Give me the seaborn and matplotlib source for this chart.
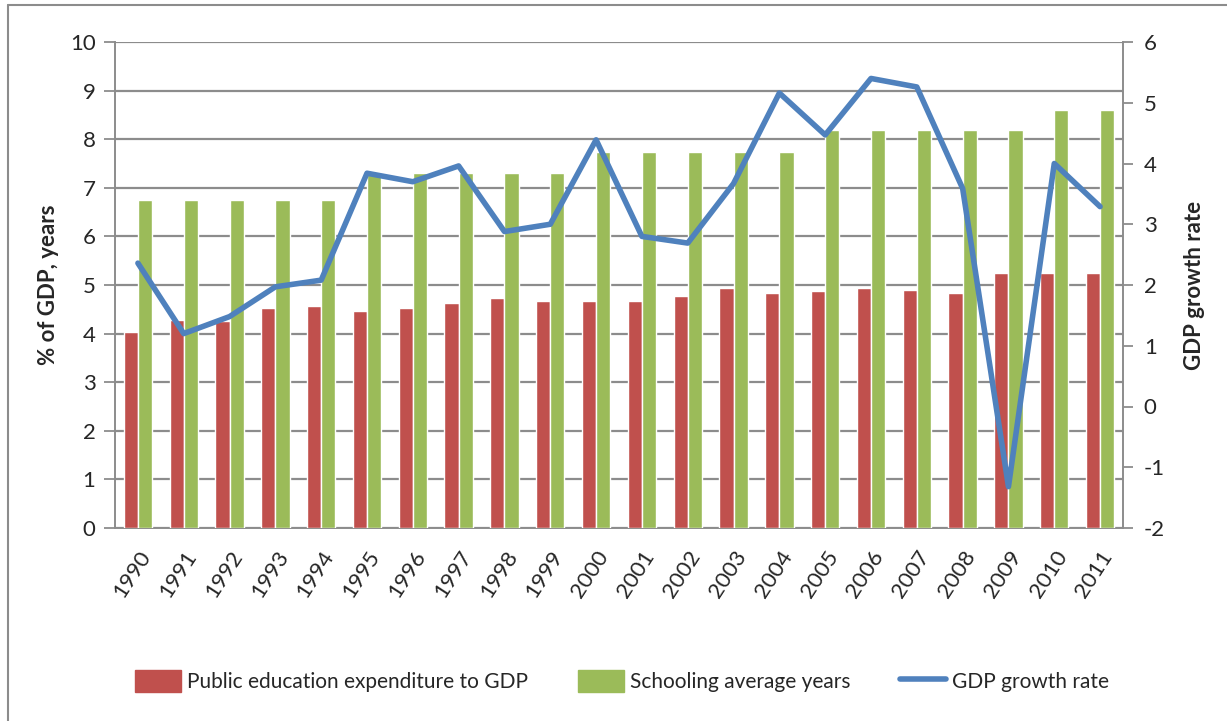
import numpy as np
import pandas as pd
import seaborn as sns
import matplotlib
matplotlib.use("Agg")
import matplotlib.pyplot as plt
from matplotlib.lines import Line2D
from matplotlib.patches import Patch

years = [str(y) for y in range(1990, 2012)]
edu_exp = [4.04, 4.27, 4.25, 4.52, 4.57, 4.47, 4.52, 4.63, 4.73, 4.68, 4.68,
           4.68, 4.78, 4.94, 4.84, 4.88, 4.94, 4.89, 4.84, 5.25, 5.25, 5.25]
schooling = [6.75, 6.75, 6.75, 6.75, 6.75, 7.30, 7.30, 7.30, 7.30, 7.30, 7.74,
             7.74, 7.74, 7.74, 7.74, 8.19, 8.19, 8.19, 8.19, 8.19, 8.60, 8.60]
gdp_growth = [2.36, 1.20, 1.48, 1.97, 2.08, 3.84, 3.70, 3.96, 2.88, 3.00, 4.39,
              2.80, 2.69, 3.67, 5.16, 4.47, 5.40, 5.26, 3.59, -1.32, 4.00, 3.29]

s1 = "Public education expenditure to GDP"
s2 = "Schooling average years"
s3 = "GDP growth rate"

sns.set_style("white")
plt.rcParams['font.family'] = ['Lato', 'DejaVu Sans']
plt.rcParams['axes.unicode_minus'] = False

RED = "#C0504D"
GREEN = "#9BBB59"
BLUE = "#4F81BD"
GRID = "#8C8C8C"

df = pd.DataFrame({
    "year": years * 2,
    "value": edu_exp + schooling,
    "series": [s1] * len(years) + [s2] * len(years),
})

fig = plt.figure(figsize=(12.27, 7.21), dpi=100)
ax = fig.add_axes([115 / 1227, 1 - 528 / 721, (1123 - 115) / 1227, (528 - 42) / 721])

sns.barplot(data=df, x="year", y="value", hue="series", order=years,
            hue_order=[s1, s2], palette=[RED, GREEN], width=0.62,
            saturation=1, ax=ax, legend=False, zorder=3)
ax.set_xlim(-0.5, len(years) - 0.5)
ax.set_ylim(0, 10)
ax.set_yticks(range(0, 11))
ax.yaxis.grid(True, color=GRID, linewidth=1.6, zorder=0)
ax.set_axisbelow(True)
ax.set_xlabel("")
ax.set_ylabel("% of GDP, years", fontsize=16, fontweight="bold", labelpad=8)

ax.set_xticks(range(len(years)))
ax.set_xticklabels(years, rotation=57, ha="right", rotation_mode="anchor", fontsize=16)
ax.set_xticks(np.arange(-0.5, len(years), 1), minor=True)
ax.tick_params(axis="x", which="major", length=0, pad=14)
ax.tick_params(axis="x", which="minor", length=8, color=GRID, width=1.3, direction="out")
ax.tick_params(axis="y", length=8, color=GRID, width=1.3, direction="out", labelsize=16, pad=6)

for sp in ["left", "bottom"]:
    ax.spines[sp].set_color(GRID)
    ax.spines[sp].set_linewidth(1.4)
ax.spines["top"].set_visible(False)
ax.spines["right"].set_visible(False)

ax2 = ax.twinx()
sns.lineplot(x=list(range(len(years))), y=gdp_growth, color=BLUE, linewidth=4,
             ax=ax2, zorder=5)
ax2.set_ylim(-2, 6)
ax2.set_yticks(range(-2, 7))
ax2.set_xlim(-0.5, len(years) - 0.5)
ax2.grid(False)
ax2.set_ylabel("GDP growth rate", fontsize=16, fontweight="bold", labelpad=14)
ax2.tick_params(axis="y", length=7, color=GRID, width=1.3, direction="out", labelsize=16, pad=8, right=True)
for sp in ["top", "left", "bottom"]:
    ax2.spines[sp].set_visible(False)
ax2.spines["right"].set_color(GRID)
ax2.spines["right"].set_linewidth(1.4)

handles = [Patch(facecolor=RED, edgecolor=RED),
           Patch(facecolor=GREEN, edgecolor=GREEN),
           Line2D([0], [0], color=BLUE, linewidth=4)]
fig.legend(handles, [s1, s2, s3], loc="center", bbox_to_anchor=(0.507, 1 - 681 / 721),
           ncol=3, frameon=False, fontsize=15, handlelength=2.2, handleheight=1.3,
           handletextpad=0.3, columnspacing=2.4)

# outer chart frame (left and top edges)
fig.add_artist(Line2D([8 / 1227, 8 / 1227], [0, 1 - 5 / 721], transform=fig.transFigure,
                      color="#8C8C8C", linewidth=1.5))
fig.add_artist(Line2D([8 / 1227, 1], [1 - 5 / 721, 1 - 5 / 721], transform=fig.transFigure,
                      color="#8C8C8C", linewidth=1.5))

fig.savefig("out.png", dpi=100, facecolor="white")
